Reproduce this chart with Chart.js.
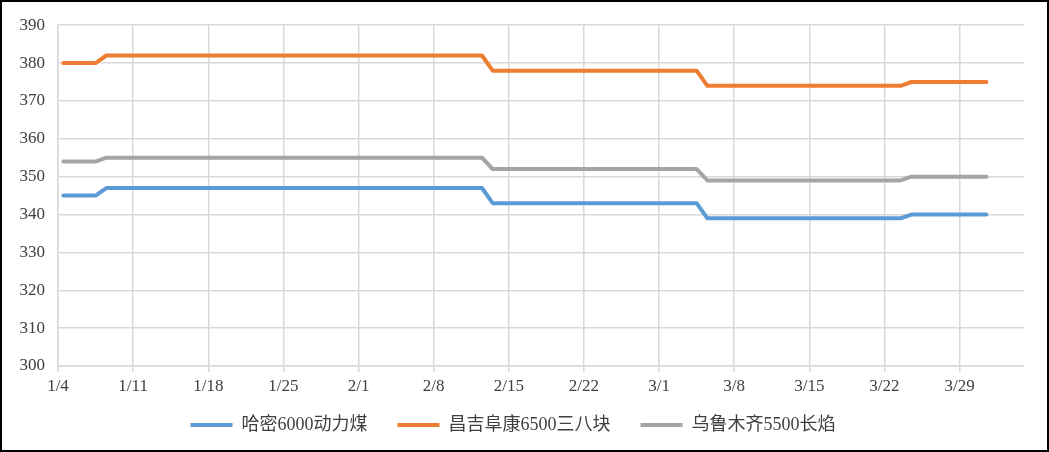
<!DOCTYPE html>
<html>
<head>
<meta charset="utf-8">
<script src="https://cdn.jsdelivr.net/npm/chart.js@4"></script>
<style>
  body { margin: 0; background: #fff; }
  #wrap { position: absolute; left: 0; top: 0; width: 1049px; height: 452px; box-sizing: border-box; border: 2px solid #000; }
</style>
</head>
<body>
<div id="wrap"><canvas id="myChart"></canvas></div>
<script>
// 数据：价格变动的日期和对应价格
const dates = ['1/4', '1/7', '1/8', '2/12', '2/13', '3/4', '3/5', '3/23', '3/24', '3/31'];
const hamiValues = [345, 345, 347, 347, 343, 343, 339, 339, 340, 340];
const changjiValues = [380, 380, 382, 382, 378, 378, 374, 374, 375, 375];
const wulumuqiValues = [354, 354, 355, 355, 352, 352, 349, 349, 350, 350];
const seriesNames = ['哈密6000动力煤', '昌吉阜康6500三八块', '乌鲁木齐5500长焰'];
const tickLabels = ['1/4', '1/11', '1/18', '1/25', '2/1', '2/8', '2/15', '2/22', '3/1', '3/8', '3/15', '3/22', '3/29'];

// 1/4 起算的天数
function dayOf(s) {
    let [m, d] = s.split('/').map(Number);
    return (Date.UTC(2021, m - 1, d) - Date.UTC(2021, 0, 4)) / 86400000;
}

// 点放在每天的格子中间
function toPoints(values) {
    return values.map((v, i) => ({ x: dayOf(dates[i]) + 0.5, y: v }));
}

function makeSet(label, values, color) {
    return {
        label: label,
        data: toPoints(values),
        borderColor: color,
        backgroundColor: color,
        borderWidth: 4,
        borderCapStyle: 'round',
        borderJoinStyle: 'round',
        pointRadius: 0,
        tension: 0,
    };
}

const gridColor = '#d9d9d9';
const fontFamily = '"Liberation Serif", "Noto Sans CJK SC"';
const tickFont = { family: fontFamily, size: 17 };

// 图例往上挪一点
const legendShift = {
    id: 'legendShift',
    afterLayout(chart) {
        chart.legend.top -= 10;
        chart.legend.bottom -= 10;
    }
};

let ctx = document.getElementById('myChart');
let config = {
    type: 'line',
    data: {
        datasets: [
            makeSet(seriesNames[0], hamiValues, '#5b9bd5'),
            makeSet(seriesNames[1], changjiValues, '#ed7d31'),
            makeSet(seriesNames[2], wulumuqiValues, '#a5a5a5'),
        ],
    },
    options: {
        responsive: true,
        maintainAspectRatio: false,
        animation: false,
        layout: { padding: { top: 22, right: 23, left: 0, bottom: -4 } },
        plugins: {
            tooltip: { enabled: false },
            legend: {
                position: 'bottom',
                labels: {
                    usePointStyle: true,
                    pointStyle: 'line',
                    pointStyleWidth: 42,
                    padding: 30,
                    color: '#404040',
                    font: { family: fontFamily, size: 18 },
                },
            },
        },
        scales: {
            x: {
                type: 'linear',
                min: 0,
                max: 90,
                afterBuildTicks: (scale) => {
                    scale.ticks = tickLabels.map(l => ({ value: dayOf(l) }));
                },
                afterFit: (scale) => { scale.height = 30; },
                ticks: {
                    autoSkip: false,
                    maxRotation: 0,
                    padding: 4,
                    color: '#404040',
                    font: tickFont,
                    callback: (v, i) => tickLabels[i],
                },
                grid: { color: gridColor, lineWidth: 1.5, drawTicks: true, tickLength: 6 },
                border: { color: gridColor, width: 1.5 },
            },
            y: {
                min: 300,
                max: 390,
                afterFit: (scale) => { scale.width = 56; },
                ticks: {
                    stepSize: 10,
                    padding: 13,
                    color: '#404040',
                    font: tickFont,
                },
                grid: { color: gridColor, lineWidth: 1.5, drawTicks: false },
                border: { color: gridColor, width: 1.5 },
            },
        },
    },
    plugins: [legendShift],
};

let myChart = new Chart(ctx, config);
</script>
</body>
</html>
